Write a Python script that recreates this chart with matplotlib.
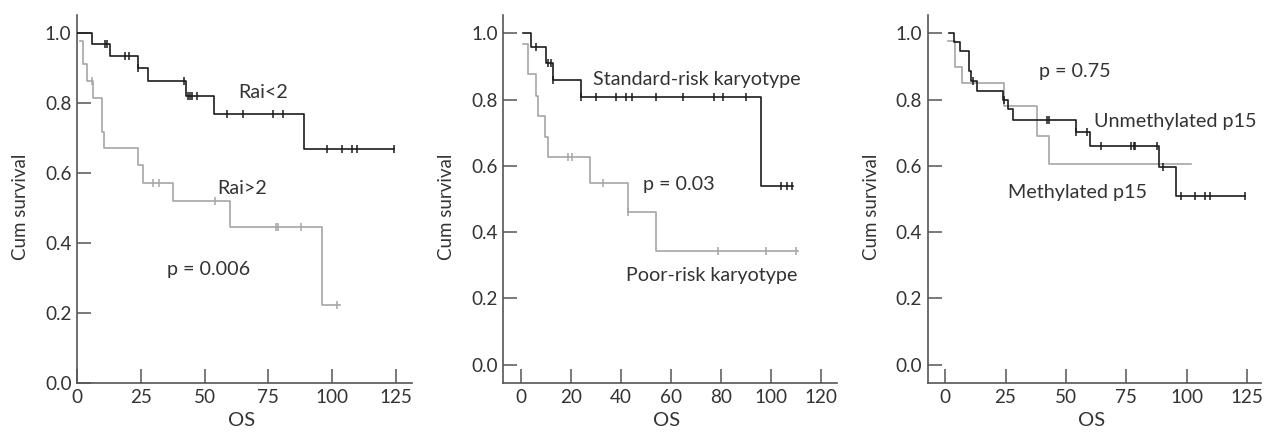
import matplotlib

matplotlib.use("Agg")
import matplotlib.pyplot as plt
import numpy as np

plt.rcParams["font.family"] = ["Lato", "DejaVu Sans"]

BLACK = "#1c1c1c"
GRAY = "#a6a6a6"
TEXT = "#333333"
SPINE = "#555555"

# panel 1: Rai stage
rai_lo_t = [0, 5.9, 12.9, 23.8, 27.9, 42.7, 53.8, 88.9]
rai_lo_s = [1.0, 0.970, 0.936, 0.900, 0.862, 0.820, 0.769, 0.670]
rai_lo_cens = [11.0, 11.9, 18.8, 20.5, 23.8, 41.9, 43.4, 44.3, 45.2, 46.9, 58.7, 64.9,
               77.0, 80.9, 97.9, 103.7, 107.9, 109.6, 124.4]
rai_lo_end = 124.4

rai_hi_t = [1.2, 2.5, 3.8, 6.4, 9.9, 10.7, 24.0, 25.7, 37.7, 59.8, 95.9]
rai_hi_s = [0.978, 0.913, 0.863, 0.816, 0.718, 0.673, 0.623, 0.573, 0.519, 0.445, 0.222]
rai_hi_cens = [5.7, 29.9, 32.3, 54.2, 78.0, 78.7, 87.8, 102.0]
rai_hi_end = 103.0

# panel 2: karyotype
std_t = [1.0, 4.0, 10.0, 12.8, 24.0, 96.0]
std_s = [1.0, 0.958, 0.911, 0.859, 0.807, 0.538]
std_cens = [6.1, 11.1, 12.0, 12.8, 24.1, 30.0, 38.1, 42.0, 44.7, 54.1, 65.1, 77.3,
            81.1, 90.0, 104.0, 106.4, 108.7]
std_end = 109.0

poor_t = [1.0, 2.8, 6.0, 7.1, 9.7, 11.0, 27.7, 43.0, 54.0]
poor_s = [0.968, 0.876, 0.812, 0.751, 0.688, 0.626, 0.548, 0.460, 0.342]
poor_cens = [18.8, 20.4, 33.0, 43.0, 79.0, 98.0, 110.0]
poor_end = 111.0

# panel 3: p15 methylation
unmeth_t = [1.5, 3.6, 6.1, 9.9, 10.9, 13.0, 24.0, 26.0, 28.1, 54.0, 59.9, 88.7, 95.6]
unmeth_s = [1.0, 0.972, 0.945, 0.887, 0.856, 0.827, 0.799, 0.770, 0.738, 0.702,
            0.660, 0.596, 0.508]
unmeth_cens = [11.6, 24.5, 42.0, 42.9, 54.0, 58.8, 64.7, 77.0, 78.1, 78.8, 87.8,
               90.1, 97.7, 103.6, 107.8, 109.8, 124.3]
unmeth_end = 124.3

meth_t = [1.0, 4.0, 6.8, 24.3, 38.1, 43.0]
meth_s = [0.976, 0.899, 0.849, 0.779, 0.691, 0.605]
meth_cens = []
meth_end = 101.8

ANNOT_FS = 14.2


def km(ax, t, s, cens, end, color):
    x = np.append(t, end)
    y = np.append(s, s[-1])
    ax.step(x, y, where="post", color=color, lw=1.2, zorder=3)
    if cens:
        idx = np.searchsorted(t, cens, side="right") - 1
        ax.plot(cens, np.asarray(s)[idx], ls="none", marker="|", ms=5.5,
                mew=1.1, color=color, zorder=3)


def style(ax, xlim, ylim, xticks):
    ax.set_xlim(*xlim)
    ax.set_ylim(*ylim)
    ax.set_xticks(xticks)
    ax.set_yticks([0.0, 0.2, 0.4, 0.6, 0.8, 1.0])
    ax.set_yticklabels(["0.0", "0.2", "0.4", "0.6", "0.8", "1.0"])
    for side in ["top", "right"]:
        ax.spines[side].set_visible(False)
    for side in ["left", "bottom"]:
        ax.spines[side].set_color(SPINE)
        ax.spines[side].set_linewidth(1.2)
    ax.tick_params(direction="in", length=10, width=1.1, color=SPINE,
                   labelsize=13.6, labelcolor=TEXT, pad=4)
    ax.set_xlabel("OS", fontsize=14.5, color=TEXT)
    ax.set_ylabel("Cum survival", fontsize=13.5, color=TEXT)
    ax.xaxis.set_label_coords(0.49, -0.078)
    ax.yaxis.set_label_coords(-0.17, 0.48)
    ax.yaxis.label.set_va("center")


fig = plt.figure(figsize=(12.64, 4.34), dpi=100)
ax1 = fig.add_axes([0.0609, 0.1175, 0.265, 0.848])
ax2 = fig.add_axes([0.398, 0.1175, 0.264, 0.848])
ax3 = fig.add_axes([0.734, 0.1175, 0.264, 0.848])

km(ax1, rai_hi_t, rai_hi_s, rai_hi_cens, rai_hi_end, GRAY)
km(ax1, rai_lo_t, rai_lo_s, rai_lo_cens, rai_lo_end, BLACK)
style(ax1, (0, 131.3), (0, 1.052), [0, 25, 50, 75, 100, 125])
ax1.text(63.3, 0.83, "Rai<2", fontsize=ANNOT_FS, color=TEXT, va="center")
ax1.text(54.8, 0.555, "Rai>2", fontsize=ANNOT_FS, color=TEXT, va="center")
ax1.text(35.2, 0.324, "p = 0.006", fontsize=ANNOT_FS, color=TEXT, va="center")

km(ax2, poor_t, poor_s, poor_cens, poor_end, GRAY)
km(ax2, std_t, std_s, std_cens, std_end, BLACK)
style(ax2, (-7, 126.4), (-0.055, 1.055), [0, 20, 40, 60, 80, 100, 120])
ax2.text(29.1, 0.859, "Standard-risk karyotype", fontsize=ANNOT_FS, color=TEXT, va="center")
ax2.text(48.8, 0.543, "p = 0.03", fontsize=ANNOT_FS, color=TEXT, va="center")
ax2.text(42.1, 0.268, "Poor-risk karyotype", fontsize=ANNOT_FS, color=TEXT, va="center")

km(ax3, meth_t, meth_s, meth_cens, meth_end, GRAY)
km(ax3, unmeth_t, unmeth_s, unmeth_cens, unmeth_end, BLACK)
style(ax3, (-7.2, 131), (-0.055, 1.055), [0, 25, 50, 75, 100, 125])
ax3.text(38.8, 0.884, "p = 0.75", fontsize=ANNOT_FS, color=TEXT, va="center")
ax3.text(61.5, 0.734, "Unmethylated p15", fontsize=ANNOT_FS, color=TEXT, va="center")
ax3.text(25.9, 0.521, "Methylated p15", fontsize=ANNOT_FS, color=TEXT, va="center")

fig.savefig("out.png", dpi=100)
